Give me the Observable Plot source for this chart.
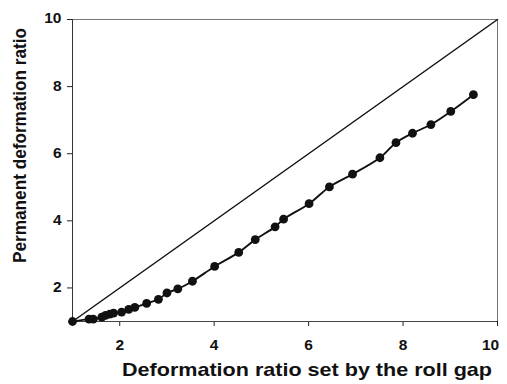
<!DOCTYPE html>
<html>
<head>
<meta charset="utf-8">
<script src="https://cdn.jsdelivr.net/npm/d3@7"></script>
<script src="https://cdn.jsdelivr.net/npm/@observablehq/plot@0.6"></script>
<style>
  html, body { margin: 0; padding: 0; background: #fff; }
  #chart { width: 507px; height: 384px; }
  #chart g[aria-label="text"] text { font-size: 15.5px; font-weight: bold; }
</style>
</head>
<body>
<div id="chart"></div>
<script>
// Deformation ratio set by the roll gap (x) vs permanent deformation ratio (y)
const rollGapRatio = [1.00, 1.35, 1.44, 1.62, 1.70, 1.79, 1.87, 2.04, 2.19, 2.32, 2.57, 2.82, 3.00, 3.23, 3.54, 4.01, 4.52, 4.87, 5.29, 5.47, 6.01, 6.44, 6.93, 7.51, 7.85, 8.20, 8.59, 9.01, 9.49];
const permanentRatio = [1.00, 1.07, 1.07, 1.13, 1.18, 1.22, 1.25, 1.28, 1.36, 1.42, 1.54, 1.66, 1.85, 1.97, 2.20, 2.64, 3.06, 3.44, 3.82, 4.05, 4.51, 5.01, 5.39, 5.88, 6.33, 6.61, 6.87, 7.26, 7.76];
// identity (1:1) reference line
const identityX = [1, 10];
const identityY = [1, 10];
const xTicks = [2, 4, 6, 8, 10];
const yTicks = [2, 4, 6, 8, 10];
const xTitle = "Deformation ratio set by the roll gap";
const yTitle = "Permanent deformation ratio";

const points = rollGapRatio.map((x, i) => ({x, y: permanentRatio[i]}));
const identity = identityX.map((x, i) => ({x, y: identityY[i]}));
const xTickData = xTicks.map(v => ({v}));
const yTickData = yTicks.map(v => ({v}));
const font = "'Liberation Sans', Arial, Helvetica, sans-serif";

const plot = Plot.plot({
  width: 507,
  height: 384,
  marginLeft: 72,
  marginRight: 10,
  marginTop: 19,
  marginBottom: 63,
  style: {fontFamily: font, background: "#fff"},
  x: {domain: [1, 10], label: null},
  y: {domain: [1, 10], label: null},
  marks: [
    Plot.frame({stroke: "#777", strokeWidth: 1}),
    Plot.axisX({ticks: xTicks, tickSize: 5, tickFormat: () => "", stroke: "#222", label: null}),
    Plot.axisY({ticks: yTicks, tickSize: 5, tickFormat: () => "", stroke: "#222", label: null}),
    Plot.ruleX([1], {stroke: "#333"}),
    Plot.ruleY([1], {stroke: "#444"}),
    Plot.text(xTickData.filter(d => d.v !== 10), {x: "v", text: d => String(d.v), frameAnchor: "bottom", dy: 24, lineAnchor: "middle", fontSize: 15.5, fontWeight: "bold", fill: "#111"}),
    Plot.text(xTickData.filter(d => d.v === 10), {x: "v", text: d => String(d.v), frameAnchor: "bottom", dy: 24, dx: -7, lineAnchor: "middle", fontSize: 15.5, fontWeight: "bold", fill: "#111"}),
    Plot.text(yTickData, {y: "v", text: d => String(d.v), frameAnchor: "left", dx: -11, dy: -1, textAnchor: "end", lineAnchor: "middle", fontSize: 15.5, fontWeight: "bold", fill: "#111"}),
    Plot.line(identity, {x: "x", y: "y", stroke: "#111", strokeWidth: 1.5}),
    Plot.line(points, {x: "x", y: "y", stroke: "#111", strokeWidth: 1.9, curve: "catmull-rom"}),
    Plot.dot(points, {x: "x", y: "y", r: 4.4, fill: "#111", stroke: "none"})
  ]
});

document.getElementById("chart").appendChild(plot);

const svg = d3.select(plot);
svg.append("text")
  .attr("x", 307)
  .attr("y", 376)
  .attr("text-anchor", "middle")
  .attr("textLength", 370)
  .attr("lengthAdjust", "spacingAndGlyphs")
  .style("font-family", font)
  .style("font-weight", "bold")
  .style("font-size", "18.5px")
  .attr("fill", "#111")
  .text(xTitle);
svg.append("text")
  .attr("transform", "translate(26,145.5) rotate(-90)")
  .attr("text-anchor", "middle")
  .attr("textLength", 235)
  .attr("lengthAdjust", "spacingAndGlyphs")
  .style("font-family", font)
  .style("font-weight", "bold")
  .style("font-size", "18px")
  .attr("fill", "#111")
  .text(yTitle);
</script>
</body>
</html>
